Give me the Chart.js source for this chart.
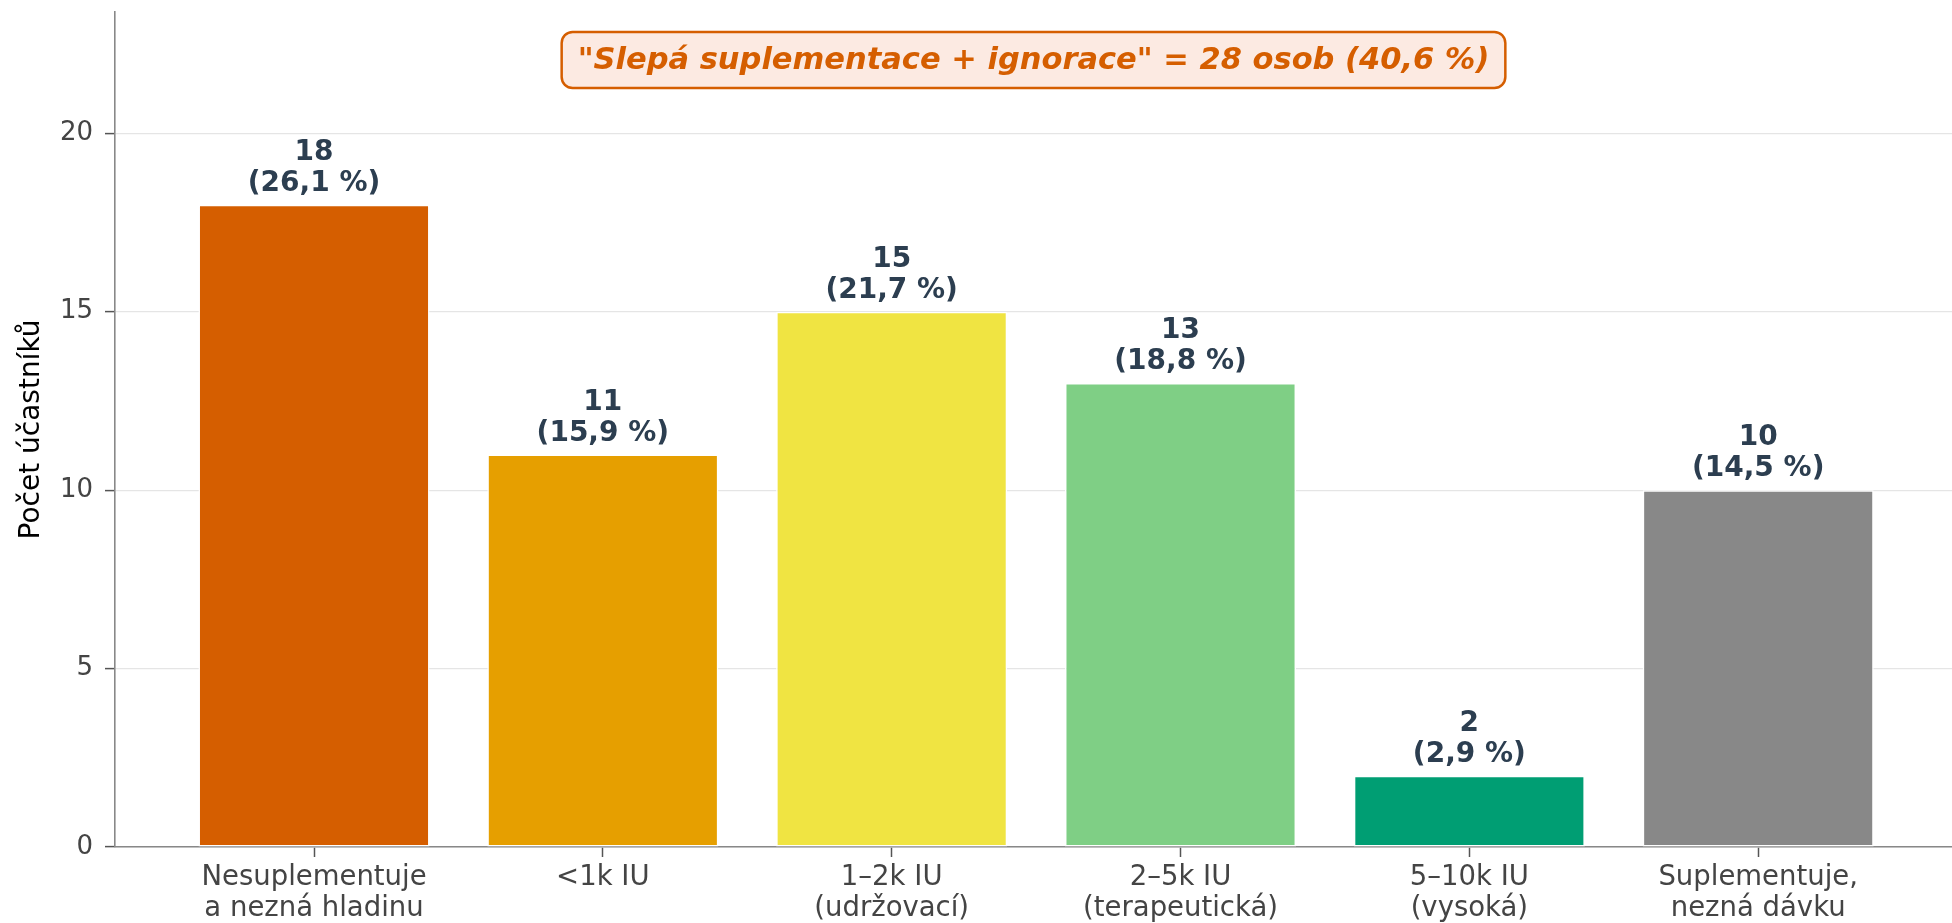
<!DOCTYPE html>
<html lang="cs">
<head>
<meta charset="utf-8">
<title>Suplementace vitaminu D</title>
<script src="https://cdn.jsdelivr.net/npm/chart.js@4.4.1/dist/chart.umd.min.js"></script>
<style>
    html, body { margin: 0; padding: 0; background: #ffffff; }
    #wrap { width: 1952px; height: 923px; }
</style>
</head>
<body>
<div id="wrap"><canvas id="doseChart" width="1952" height="923"></canvas></div>
<script>
// Data
const categories = [
    ['Nesuplementuje', 'a nezná hladinu'],
    ['<1k IU'],
    ['1–2k IU', '(udržovací)'],
    ['2–5k IU', '(terapeutická)'],
    ['5–10k IU', '(vysoká)'],
    ['Suplementuje,', 'nezná dávku']
];
const counts = [18, 11, 15, 13, 2, 10];
const percents = [26.1, 15.9, 21.7, 18.8, 2.9, 14.5];
const barColors = ['#D55E00', '#E69F00', '#F0E442', '#7FCF85', '#009E73', '#888888'];
const yTicks = [0, 5, 10, 15, 20];
const calloutText = '"Slepá suplementace + ignorace" = 28 osob (40,6 %)';

const FONT = '"DejaVu Sans", "Liberation Sans", sans-serif';

// value labels above each bar: count + percentage
const barLabels = {
    id: 'barLabels',
    afterDatasetsDraw(chart) {
        const ctx = chart.ctx;
        const meta = chart.getDatasetMeta(0);
        ctx.save();
        ctx.fillStyle = '#2C3E50';
        ctx.font = 'bold 28px ' + FONT;
        ctx.textAlign = 'center';
        ctx.textBaseline = 'middle';
        meta.data.forEach((bar, i) => {
            ctx.fillText(String(counts[i]), bar.x, bar.y - 52);
            ctx.fillText('(' + percents[i].toFixed(1).replace('.', ',') + ' %)', bar.x, bar.y - 21);
        });
        ctx.restore();
    }
};

// the orange callout box at the top
const callout = {
    id: 'callout',
    afterDraw(chart) {
        const ctx = chart.ctx;
        const area = chart.chartArea;
        const cx = (area.left + area.right) / 2;
        const cy = 60;
        ctx.save();
        ctx.font = 'italic bold 30.5px ' + FONT;
        const w = ctx.measureText(calloutText).width + 32;
        const h = 56;
        ctx.beginPath();
        ctx.roundRect(cx - w / 2, cy - h / 2, w, h, 11);
        ctx.fillStyle = '#FCEAE2';
        ctx.fill();
        ctx.lineWidth = 2.5;
        ctx.strokeStyle = '#D55E00';
        ctx.stroke();
        ctx.fillStyle = '#D55E00';
        ctx.textAlign = 'center';
        ctx.textBaseline = 'middle';
        ctx.fillText(calloutText, cx, cy + 1);
        ctx.restore();
    }
};

const ctx = document.getElementById('doseChart').getContext('2d');
const doseChart = new Chart(ctx, {
    type: 'bar',
    data: {
        datasets: [{
            data: counts.map((c, i) => ({ x: i, y: c })),
            backgroundColor: barColors,
            borderColor: '#ffffff',
            borderWidth: 1.5,
            borderSkipped: false,
            barPercentage: 0.8,
            categoryPercentage: 1.0
        }]
    },
    options: {
        responsive: false,
        animation: false,
        devicePixelRatio: 1,
        layout: { padding: { top: 12, right: 0, left: 0, bottom: 0 } },
        plugins: {
            legend: { display: false },
            tooltip: { enabled: false }
        },
        scales: {
            x: {
                type: 'linear',
                offset: false,
                min: -0.689,
                max: 5.671,
                afterBuildTicks: scale => {
                    scale.ticks = categories.map((c, i) => ({ value: i }));
                },
                afterFit: scale => {
                    scale.height = 76;
                    scale.paddingLeft = 0;
                    scale.paddingRight = 0;
                },
                ticks: {
                    autoSkip: false,
                    maxRotation: 0,
                    padding: 6,
                    color: '#444444',
                    font: { family: FONT, size: 27.5, lineHeight: 1.1 },
                    callback: value => categories[value]
                },
                grid: {
                    offset: false,
                    drawOnChartArea: false,
                    drawTicks: true,
                    tickLength: 10,
                    tickColor: '#555555',
                    tickWidth: 1.5
                },
                border: { color: '#888888', width: 1.6 }
            },
            y: {
                min: 0,
                max: 23.4,
                afterBuildTicks: scale => {
                    scale.ticks = yTicks.map(v => ({ value: v }));
                },
                afterFit: scale => {
                    scale.width = 115;
                    scale.paddingTop = 0;
                    scale.paddingBottom = 0;
                },
                ticks: {
                    padding: 12,
                    color: '#444444',
                    font: { family: FONT, size: 26 }
                },
                grid: {
                    color: '#e5e5e5',
                    lineWidth: 1.2,
                    tickLength: 10,
                    tickColor: '#555555',
                    tickWidth: 1.5
                },
                border: { color: '#888888', width: 1.6 },
                title: {
                    display: true,
                    text: 'Počet účastníků',
                    color: '#000000',
                    padding: { top: 15, bottom: 0 },
                    font: { family: FONT, size: 28, lineHeight: 1.2 }
                }
            }
        }
    },
    plugins: [barLabels, callout]
});
</script>
</body>
</html>
